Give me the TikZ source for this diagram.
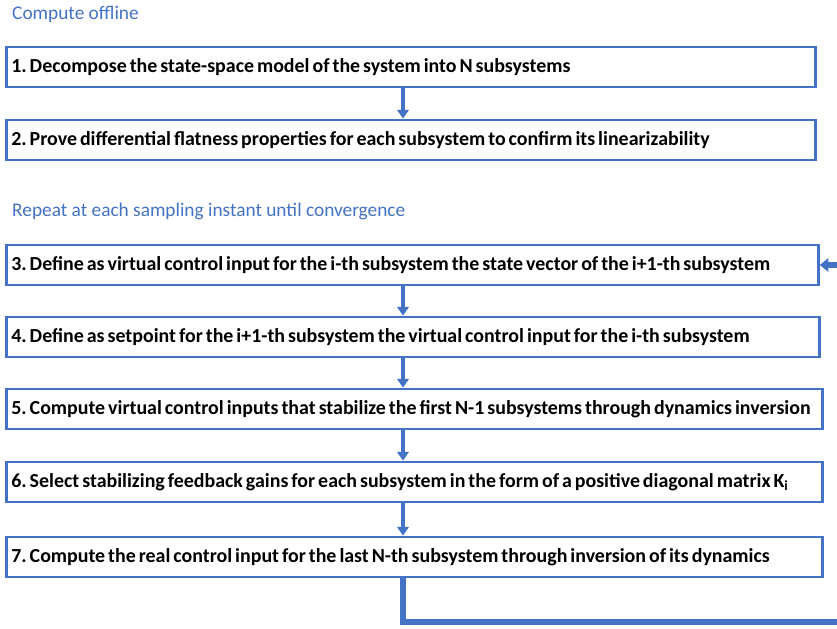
\documentclass[tikz,border=0pt]{standalone}
\usepackage{fontspec}
\setmainfont{Carlito}
\usepackage{xcolor}
\usetikzlibrary{arrows.meta}
\definecolor{flowblue}{RGB}{68,114,196}
\newcommand\tightwords{\spaceskip=0.15em plus 0.05em\relax\xspaceskip=0.15em\relax}
\tikzset{
    stepbox/.style={draw=flowblue, line width=0.08cm, fill=white, minimum height=1.2cm, inner xsep=0.15cm, text width=#1, align=flush left, anchor=west, font=\bfseries\fontsize{17}{20}\selectfont\tightwords},
    headtext/.style={anchor=west, inner sep=0pt, text=flowblue, font=\fontsize{16.5}{19}\selectfont},
    steparrow/.style={draw=flowblue, line width=0.12cm, -{Triangle[width=0.34cm, length=0.26cm]}},
    loopline/.style={draw=flowblue, line width=0.16cm, -{Triangle[width=0.4cm, length=0.26cm]}},
}
\begin{document}
\begin{tikzpicture}[x=0.03cm, y=-0.03cm]
    \newcommand\posL{5}
    \newcommand\posA{403}
    \clip (0,0) rectangle (837,629);

    \node[headtext] (off) at (12, 14){Compute offline};
    \node[stepbox=23.97cm] (b1) at (\posL, 67){1. Decompose the state-space model of the system into N subsystems};
    \node[stepbox=23.97cm] (b2) at (\posL, 140){2. Prove differential flatness properties for each subsystem to confirm its linearizability};

    \node[headtext] (rep) at (12, 211){Repeat at each sampling instant until convergence};
    \node[stepbox=24.06cm] (b3) at (\posL, 265){3. Define as virtual control input for the i-th subsystem the state vector of the i+1-th subsystem};
    \node[stepbox=24.09cm] (b4) at (\posL, 337){4. Define as setpoint for the i+1-th subsystem the virtual control input for the i-th subsystem};
    \node[stepbox=24.18cm] (b5) at (\posL, 409){5. Compute virtual control inputs that stabilize the first N-1 subsystems through dynamics inversion};
    \node[stepbox=24.18cm] (b6) at (\posL, 482){6. Select stabilizing feedback gains for each subsystem in the form of a positive diagonal matrix K\textsubscript{i}};
    \node[stepbox=24.18cm] (b7) at (\posL, 557){7. Compute the real control input for the last N-th subsystem through inversion of its dynamics};

    \coordinate (ax) at (\posA, 0);
    \coordinate (loopR) at (850, 622);

    \draw[steparrow] (b1.south -| ax) -- (b2.north -| ax);
    \draw[steparrow] (b3.south -| ax) -- (b4.north -| ax);
    \draw[steparrow] (b4.south -| ax) -- (b5.north -| ax);
    \draw[steparrow] (b5.south -| ax) -- (b6.north -| ax);
    \draw[steparrow] (b6.south -| ax) -- (b7.north -| ax);
    \draw[loopline] (b7.south -| ax) |- (loopR) |- (b3.east);
\end{tikzpicture}
\end{document}
